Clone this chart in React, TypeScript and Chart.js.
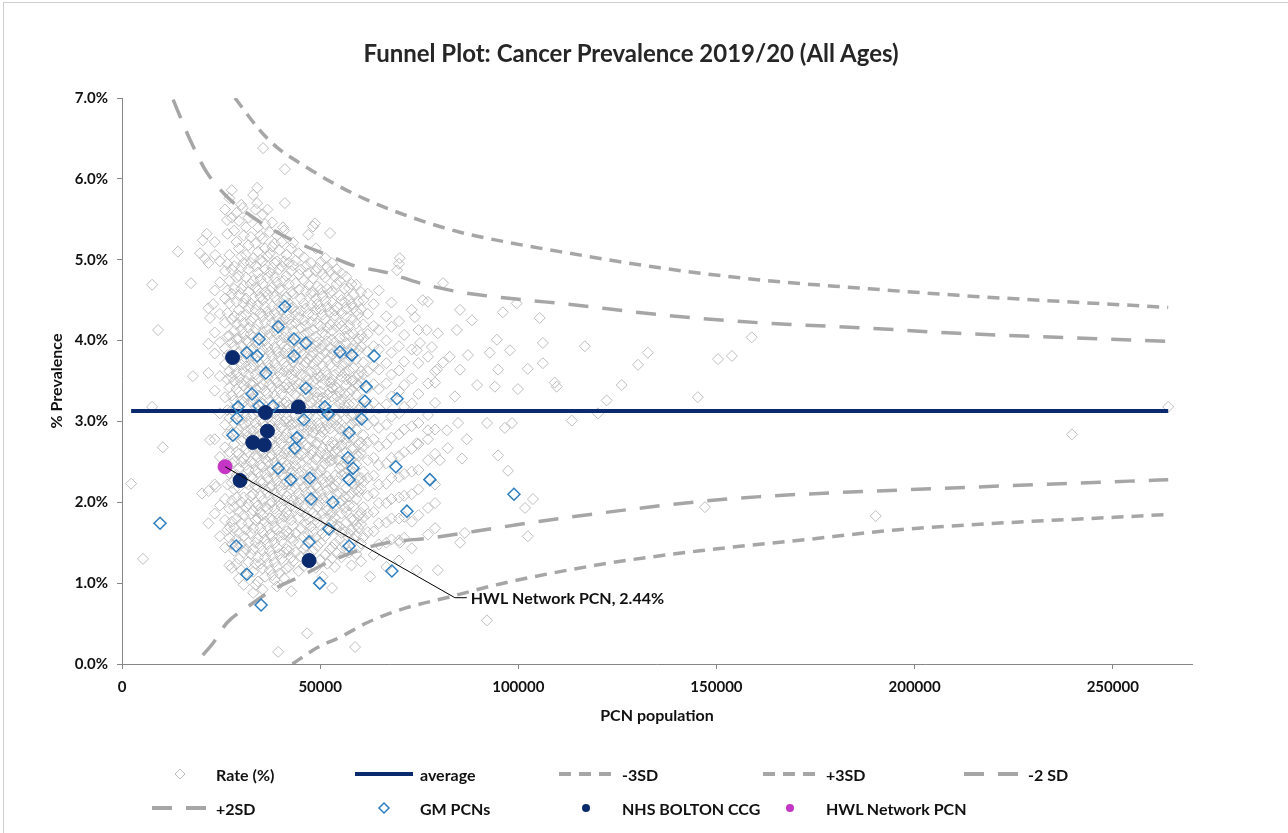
import React, { useEffect, useRef } from 'react';
import { Chart, registerables } from 'chart.js';

Chart.register(...registerables);

const chartTitle = 'Funnel Plot: Cancer Prevalence 2019/20 (All Ages)';
const xAxisTitle = 'PCN population';
const yAxisTitle = '% Prevalence';
const hwlLabel = 'HWL Network PCN, 2.44%';

const xTicks = [0, 50000, 100000, 150000, 200000, 250000];
const yTicks = [0, 1, 2, 3, 4, 5, 6, 7];

// All populations below are in thousands, rates in %.
const averageRate = 3.13;
const averageRange = [2.3, 264];

const plus3SD: [number, number][] = [
    [28.5, 7.0], [34.8, 6.6], [39.1, 6.39], [45.7, 6.17], [53.2, 5.95], [61.8, 5.74], [72.7, 5.53],
    [85.3, 5.34], [97.9, 5.21], [110.5, 5.1], [135.7, 4.9], [161, 4.75], [186, 4.65], [211, 4.56], [264, 4.41],
];
const plus2SD: [number, number][] = [
    [12.9, 6.98], [17.2, 6.48], [21.4, 6.08], [26.5, 5.78], [32.3, 5.55], [39.1, 5.34], [45.7, 5.18],
    [51.7, 5.06], [58.3, 4.93], [66.9, 4.84], [75.2, 4.71], [85.3, 4.6], [102.2, 4.5], [110.5, 4.46],
    [135.7, 4.32], [161, 4.22], [186, 4.16], [211, 4.09], [264, 3.99],
];
const minus2SD: [number, number][] = [
    [20.4, 0.11], [23.0, 0.26], [26.5, 0.51], [31.5, 0.7], [38.1, 0.92], [44.9, 1.08], [51.7, 1.25],
    [60.0, 1.41], [66.9, 1.5], [78, 1.56], [95.4, 1.69], [110.5, 1.8], [145.8, 2.01], [161, 2.07],
    [211, 2.18], [264, 2.28],
];
const minus3SD: [number, number][] = [
    [43.0, 0.0], [49.2, 0.2], [55.0, 0.33], [61.8, 0.51], [70.1, 0.67], [82.7, 0.83], [95.4, 0.99],
    [120.6, 1.23], [145.8, 1.4], [171, 1.53], [196, 1.66], [264, 1.85],
];

// Rate (%) markers in the dense part of the funnel: [population, rates at that population]
const rateColumns: [number, number[]][] = [
    [21.8, [4.96, 4.4, 3.96, 3.6, 2.14, 1.74]],
    [23.4, [5.22, 4.62, 4.1, 3.84, 3.38, 2.78, 2.22, 1.86]],
    [24.7, [4.98, 4.72, 4.33, 3.98, 3.56, 3.1, 2.56, 1.96, 1.58]],
    [26.0, [5.62, 4.86, 4.52, 4.22, 3.9, 3.71, 3.3, 2.96, 2.68, 2.04, 1.78, 1.44]],
    [26.6, [5.32, 4.95, 4.62, 4.34, 4.05, 3.82, 3.52, 3.14, 2.84, 2.48, 2.22, 1.66]],
    [27.1, [5.76, 5.06, 4.74, 4.46, 4.06, 3.62, 3.42, 3.04, 2.62, 2.36, 1.92, 1.56, 1.22]],
    [27.7, [5.52, 4.88, 4.58, 4.26, 3.98, 3.78, 3.55, 3.32, 3.14, 2.86, 2.48, 2.24, 2.02, 1.76, 1.48]],
    [28.3, [5.36, 4.92, 4.64, 4.3, 4.12, 3.93, 3.68, 3.5, 3.26, 2.98, 2.72, 2.5, 2.16, 1.94, 1.68, 1.4]],
    [28.9, [5.58, 5.22, 4.78, 4.48, 4.2, 4.02, 3.78, 3.6, 3.4, 3.16, 2.86, 2.62, 2.34, 2.06, 1.8, 1.54, 1.24]],
    [29.5, [5.48, 5.14, 4.8, 4.56, 4.38, 4.02, 3.86, 3.54, 3.36, 3.12, 2.9, 2.6, 2.42, 2.18, 1.88, 1.62, 1.3, 1.06]],
    [30.1, [5.68, 5.04, 4.9, 4.64, 4.3, 4.14, 3.94, 3.7, 3.48, 3.26, 3.02, 2.76, 2.5, 2.28, 2.0, 1.74, 1.48, 1.16]],
    [30.7, [5.3, 4.96, 4.68, 4.46, 4.22, 4.08, 3.76, 3.62, 3.44, 3.24, 2.96, 2.78, 2.54, 2.32, 2.06, 1.84, 1.58, 1.38, 0.98]],
    [31.3, [5.4, 5.06, 4.78, 4.52, 4.32, 4.0, 3.86, 3.68, 3.5, 3.3, 3.06, 2.88, 2.66, 2.46, 2.24, 1.94, 1.66, 1.42, 1.12]],
    [31.9, [5.52, 5.18, 4.88, 4.6, 4.4, 4.16, 3.98, 3.8, 3.58, 3.38, 3.16, 3.0, 2.82, 2.62, 2.4, 2.22, 1.98, 1.74, 1.5, 1.26]],
    [32.5, [5.28, 4.96, 4.7, 4.46, 4.24, 4.08, 3.88, 3.66, 3.46, 3.24, 3.06, 2.9, 2.72, 2.5, 2.32, 2.08, 1.86, 1.62, 1.36]],
    [33.1, [5.8, 5.02, 4.74, 4.52, 4.28, 4.04, 3.9, 3.7, 3.48, 3.28, 3.08, 2.88, 2.66, 2.48, 2.3, 2.1, 1.9, 1.68, 1.42, 1.14, 0.88]],
    [33.7, [5.62, 5.2, 4.92, 4.66, 4.38, 4.14, 3.98, 3.78, 3.58, 3.4, 3.18, 2.98, 2.8, 2.58, 2.4, 2.2, 2.0, 1.78, 1.5, 1.24, 0.98]],
    [34.3, [5.4, 5.1, 4.84, 4.62, 4.44, 4.2, 3.96, 3.74, 3.52, 3.32, 3.12, 2.92, 2.74, 2.56, 2.36, 2.18, 1.96, 1.8, 1.55, 1.32, 1.02]],
    [34.9, [5.3, 5.0, 4.76, 4.54, 4.34, 4.06, 3.84, 3.62, 3.42, 3.24, 3.02, 2.84, 2.64, 2.46, 2.26, 2.08, 1.88, 1.68, 1.46, 1.24]],
    [35.5, [5.56, 5.26, 4.98, 4.7, 4.5, 4.3, 4.1, 3.88, 3.66, 3.46, 3.22, 2.98, 2.8, 2.6, 2.44, 2.24, 2.02, 1.84, 1.62, 1.4, 1.18, 0.92]],
    [36.1, [5.44, 5.14, 4.88, 4.6, 4.42, 4.22, 4.0, 3.78, 3.58, 3.38, 3.14, 2.9, 2.72, 2.54, 2.36, 2.16, 1.94, 1.76, 1.54, 1.32, 1.08]],
    [36.7, [5.62, 5.04, 4.78, 4.56, 4.36, 4.14, 3.92, 3.72, 3.54, 3.34, 3.04, 2.86, 2.68, 2.5, 2.3, 2.12, 1.92, 1.7, 1.48, 1.24]],
    [37.3, [5.34, 5.08, 4.84, 4.62, 4.3, 4.08, 3.86, 3.66, 3.46, 3.26, 3.1, 2.94, 2.74, 2.56, 2.38, 2.18, 1.98, 1.8, 1.6, 1.4, 1.16]],
    [37.9, [5.46, 5.16, 4.9, 4.66, 4.42, 4.22, 4.0, 3.8, 3.62, 3.42, 3.2, 3.0, 2.78, 2.58, 2.4, 2.2, 2.0, 1.78, 1.58, 1.34, 1.1]],
    [38.5, [5.2, 4.96, 4.78, 4.54, 4.34, 4.12, 3.92, 3.72, 3.52, 3.32, 3.1, 2.9, 2.7, 2.5, 2.32, 2.12, 1.92, 1.7, 1.5, 1.26, 1.04]],
    [39.1, [5.3, 4.98, 4.72, 4.5, 4.28, 4.08, 3.86, 3.66, 3.48, 3.26, 3.02, 2.84, 2.64, 2.46, 2.26, 2.06, 1.86, 1.66, 1.44, 1.2, 0.96]],
    [39.7, [5.12, 4.88, 4.64, 4.42, 4.22, 4.0, 3.8, 3.6, 3.4, 3.18, 2.98, 2.78, 2.58, 2.38, 2.2, 2.0, 1.8, 1.58, 1.36, 1.12]],
    [40.3, [5.22, 4.92, 4.62, 4.38, 4.18, 3.96, 3.76, 3.54, 3.34, 3.14, 2.92, 2.72, 2.52, 2.34, 2.14, 1.94, 1.74, 1.52, 1.3]],
    [40.9, [5.36, 4.98, 4.74, 4.5, 4.26, 4.04, 3.84, 3.62, 3.42, 3.22, 3.0, 2.8, 2.6, 2.42, 2.22, 2.02, 1.82, 1.6, 1.38, 1.06]],
    [41.5, [5.06, 4.8, 4.54, 4.32, 4.1, 3.9, 3.68, 3.46, 3.24, 3.04, 2.86, 2.66, 2.46, 2.26, 2.08, 1.88, 1.64, 1.42, 1.18]],
    [42.1, [4.96, 4.7, 4.46, 4.26, 4.04, 3.84, 3.64, 3.42, 3.2, 3.0, 2.8, 2.62, 2.42, 2.22, 2.02, 1.84, 1.62, 1.4, 1.2]],
    [42.7, [5.14, 4.86, 4.6, 4.4, 4.2, 3.98, 3.78, 3.58, 3.38, 3.16, 2.96, 2.76, 2.56, 2.36, 2.16, 1.96, 1.78, 1.56, 1.32, 0.9]],
    [43.2, [5.21, 4.93, 4.58, 4.41, 4.12, 3.97, 3.74, 3.52, 3.44, 3.19, 2.97, 2.88, 2.61, 2.38, 2.29, 2.02, 1.71, 1.52, 1.27]],
    [43.8, [4.99, 4.71, 4.36, 4.22, 3.88, 3.79, 3.61, 3.33, 3.08, 2.99, 2.74, 2.52, 2.45, 2.17, 1.93, 1.62, 1.38]],
    [44.6, [5.08, 4.82, 4.63, 4.29, 4.04, 3.91, 3.66, 3.47, 3.23, 3.12, 2.83, 2.69, 2.36, 2.11, 1.99, 1.81, 1.49, 1.15]],
    [45.1, [4.88, 4.52, 4.37, 4.16, 3.86, 3.58, 3.39, 3.27, 3.01, 2.78, 2.58, 2.49, 2.27, 2.04, 1.89, 1.68, 1.33]],
    [45.9, [5.03, 4.74, 4.46, 4.25, 4.07, 3.82, 3.69, 3.45, 3.18, 2.93, 2.85, 2.61, 2.35, 2.19, 1.96, 1.57, 1.42, 1.21]],
    [46.4, [4.92, 4.61, 4.4, 4.19, 3.95, 3.73, 3.56, 3.35, 3.11, 2.96, 2.71, 2.55, 2.29, 2.12, 1.84, 1.73, 1.46]],
    [47.0, [5.31, 4.83, 4.69, 4.33, 4.1, 3.99, 3.77, 3.51, 3.31, 3.07, 2.89, 2.68, 2.42, 2.24, 2.06, 1.79, 1.6, 1.36]],
    [47.7, [4.96, 4.58, 4.44, 4.23, 3.92, 3.81, 3.61, 3.4, 3.23, 2.94, 2.77, 2.59, 2.37, 2.15, 1.98, 1.7, 1.52, 1.26]],
    [48.2, [5.41, 4.77, 4.6, 4.31, 4.13, 3.86, 3.71, 3.49, 3.28, 3.14, 2.86, 2.64, 2.45, 2.3, 2.03, 1.87, 1.63, 1.4]],
    [48.9, [5.14, 4.86, 4.52, 4.38, 4.05, 3.93, 3.64, 3.53, 3.36, 3.05, 2.91, 2.72, 2.53, 2.21, 2.09, 1.83, 1.56, 1.19]],
    [49.3, [4.9, 4.67, 4.45, 4.21, 3.98, 3.75, 3.59, 3.3, 3.17, 2.98, 2.74, 2.56, 2.34, 2.18, 1.94, 1.75, 1.46]],
    [50.1, [4.97, 4.63, 4.39, 4.18, 3.9, 3.8, 3.55, 3.37, 3.2, 2.92, 2.81, 2.62, 2.39, 2.13, 1.99, 1.71, 1.5, 1.29]],
    [50.6, [4.82, 4.55, 4.32, 4.1, 3.94, 3.69, 3.46, 3.29, 3.1, 2.87, 2.67, 2.44, 2.29, 2.05, 1.86, 1.62, 1.08]],
    [51.3, [5.02, 4.78, 4.49, 4.26, 4.07, 3.85, 3.62, 3.51, 3.25, 3.02, 2.9, 2.6, 2.48, 2.25, 2.01, 1.8, 1.58, 1.35]],
    [51.8, [4.91, 4.64, 4.42, 4.16, 3.99, 3.76, 3.57, 3.33, 3.14, 2.96, 2.76, 2.55, 2.32, 2.15, 1.9, 1.68, 1.24]],
    [52.5, [4.85, 4.59, 4.35, 4.2, 3.91, 3.7, 3.48, 3.36, 3.09, 2.91, 2.69, 2.51, 2.27, 2.08, 1.84, 1.65, 1.42]],
    [53.0, [4.96, 4.61, 4.47, 4.12, 4.01, 3.83, 3.52, 3.42, 3.31, 2.99, 2.74, 2.58, 2.52, 2.19, 1.88, 1.76, 1.44, 1.31]],
    [53.7, [4.79, 4.37, 4.31, 3.98, 3.87, 3.58, 3.44, 3.17, 3.05, 2.71, 2.63, 2.33, 2.21, 1.95, 1.81, 1.49, 1.2]],
    [54.2, [4.88, 4.7, 4.42, 4.17, 3.79, 3.74, 3.41, 3.31, 3.02, 2.94, 2.66, 2.53, 2.26, 2.1, 1.72, 1.67, 1.37]],
    [54.9, [4.74, 4.56, 4.21, 4.03, 3.93, 3.62, 3.36, 3.22, 2.91, 2.81, 2.52, 2.42, 2.11, 1.99, 1.7, 1.54]],
    [55.4, [4.83, 4.5, 4.34, 4.18, 3.82, 3.69, 3.55, 3.27, 3.12, 2.89, 2.71, 2.45, 2.34, 2.02, 1.86, 1.62, 1.32]],
    [56.2, [4.64, 4.47, 4.14, 4.05, 3.73, 3.6, 3.34, 3.2, 2.92, 2.78, 2.49, 2.36, 2.07, 1.93, 1.64, 1.48]],
    [56.6, [4.79, 4.39, 4.3, 3.96, 3.86, 3.52, 3.45, 3.13, 3.04, 2.73, 2.62, 2.31, 2.18, 1.88, 1.75, 1.43]],
    [57.3, [4.65, 4.51, 4.19, 4.07, 3.76, 3.63, 3.35, 3.21, 2.93, 2.8, 2.5, 2.39, 2.07, 1.96, 1.61, 1.38]],
    [57.9, [4.7, 4.45, 4.26, 3.9, 3.82, 3.5, 3.39, 3.07, 2.97, 2.66, 2.53, 2.24, 2.11, 1.8, 1.66, 1.22]],
    [58.4, [4.57, 4.4, 4.08, 3.94, 3.66, 3.51, 3.22, 3.09, 2.8, 2.66, 2.37, 2.23, 1.95, 1.78, 1.55]],
    [59.1, [4.69, 4.36, 4.21, 3.91, 3.77, 3.46, 3.33, 3.01, 2.9, 2.59, 2.47, 2.16, 2.04, 1.72, 1.59, 1.36]],
    [59.7, [4.48, 4.33, 4.02, 3.88, 3.57, 3.45, 3.14, 3.01, 2.71, 2.57, 2.27, 2.13, 1.83, 1.68, 1.44]],
    [60.3, [4.6, 4.39, 4.07, 3.93, 3.62, 3.49, 3.18, 3.05, 2.74, 2.61, 2.3, 2.17, 1.87, 1.73, 1.49, 1.27]],
    [60.9, [4.5, 4.2, 4.03, 3.73, 3.58, 3.27, 3.13, 2.83, 2.69, 2.38, 2.25, 1.94, 1.81, 1.57]],
    [62.0, [4.58, 4.33, 4.08, 3.86, 3.62, 3.41, 3.18, 2.96, 2.74, 2.52, 2.3, 2.08, 1.86, 1.63]],
    [63.5, [4.45, 4.18, 3.93, 3.69, 3.46, 3.23, 3.01, 2.78, 2.55, 2.33, 2.11, 1.88, 1.64, 1.35]],
    [64.8, [4.62, 4.13, 3.89, 3.64, 3.4, 3.16, 2.92, 2.69, 2.46, 2.22, 1.99, 1.74, 1.48]],
    [66.7, [4.3, 4.0, 3.72, 3.47, 3.21, 2.96, 2.72, 2.48, 2.23, 1.99, 1.75, 1.5, 1.2]],
    [68.0, [4.47, 4.17, 3.85, 3.58, 3.31, 3.06, 2.8, 2.55, 2.3, 2.04, 1.8, 1.54]],
    [69.9, [4.95, 4.24, 3.93, 3.63, 3.37, 3.1, 2.84, 2.57, 2.31, 2.06, 1.8, 1.53, 1.28]],
    [71.2, [4.07, 3.74, 3.45, 3.18, 2.9, 2.62, 2.35, 2.08, 1.82, 1.56]],
    [73.1, [4.38, 3.89, 3.53, 3.22, 2.94, 2.66, 2.38, 2.1, 1.76, 1.43]],
    [74.8, [4.13, 3.72, 3.34, 2.98, 2.72, 2.4, 2.16, 1.84]],
    [77.2, [4.48, 3.8, 3.47, 3.08, 2.78, 2.52, 1.93, 1.6]],
    [79.0, [3.62, 3.23, 2.9, 2.6, 2.22, 1.68]],
];

// Rate (%) markers outside the dense part
const rateScattered: [number, number][] = [
    [2.3, 2.23], [5.3, 1.3], [7.6, 4.69], [9.1, 4.13], [7.6, 3.18], [10.3, 2.68], [14.1, 5.1], [17.4, 4.71],
    [17.9, 3.56], [20.9, 5.02], [20.4, 5.24], [23.0, 4.45], [22.2, 4.28], [19.7, 5.08], [23.5, 5.06],
    [21.4, 5.32], [26.5, 5.49], [30.5, 5.64], [34.1, 5.7], [41.1, 5.7], [27.7, 5.86], [34.1, 5.89],
    [41.1, 6.12], [35.6, 6.38], [40.6, 5.4], [48.7, 5.45], [52.5, 5.33],
    [20.2, 2.11], [23.7, 2.19], [22.2, 2.77], [27.2, 1.69], [27.7, 1.19], [46.7, 0.38], [39.4, 0.15],
    [58.8, 0.21], [53.0, 0.94], [62.6, 1.08],
    [70.1, 5.02], [69.4, 4.87], [81.0, 4.71], [75.9, 4.5], [73.9, 4.29], [76.9, 4.13], [75.2, 3.97],
    [74.4, 3.88], [79.5, 3.64], [85.3, 4.38], [84.5, 4.13], [79.7, 4.09], [88.3, 4.25], [78.2, 3.92],
    [82.7, 3.8], [87.3, 3.82], [85.3, 3.64], [81.0, 3.73], [79.0, 3.48], [84.0, 3.31], [89.6, 3.45],
    [96.1, 4.35], [99.6, 4.46], [105.4, 4.28], [94.6, 4.01], [106.2, 3.97], [92.8, 3.85], [97.9, 3.88],
    [94.9, 3.64], [102.4, 3.65], [106.2, 3.72], [94.1, 3.43], [99.9, 3.4], [109.2, 3.48], [109.7, 3.43],
    [116.8, 3.93], [113.5, 3.01], [120.1, 3.1], [122.3, 3.26], [126.1, 3.45], [130.2, 3.7], [132.7, 3.85],
    [77.2, 2.89], [82.0, 2.89], [84.8, 2.98], [92.1, 2.98], [96.6, 2.92], [98.4, 2.98], [87.0, 2.78],
    [74.4, 2.73], [82.2, 2.67], [80.2, 2.52], [85.8, 2.54], [94.9, 2.58], [97.4, 2.39], [79.0, 1.99],
    [101.7, 1.93], [103.7, 2.04], [70.1, 1.5], [85.3, 1.5], [86.5, 1.62], [102.4, 1.58], [74.4, 1.16],
    [79.7, 1.16], [92.1, 0.54],
    [145.3, 3.3], [150.4, 3.77], [153.9, 3.81], [158.9, 4.04], [147.1, 1.94], [190.2, 1.83], [239.7, 2.84],
    [264.0, 3.18],
];

const gmPcns: [number, number][] = [
    [41.1, 4.42], [39.4, 4.17], [34.6, 4.02], [43.4, 4.02], [46.4, 3.97], [31.5, 3.85], [34.1, 3.81],
    [43.4, 3.81], [55.0, 3.86], [58.0, 3.82], [63.6, 3.81], [36.3, 3.6], [61.6, 3.43], [46.4, 3.41],
    [32.8, 3.34], [61.3, 3.25], [29.3, 3.18], [34.6, 3.19], [38.1, 3.19], [51.2, 3.18], [52.0, 3.09],
    [29.0, 3.04], [45.9, 3.02], [60.5, 3.03], [69.4, 3.28], [57.3, 2.86], [28.0, 2.83], [44.1, 2.8],
    [43.6, 2.67], [57.0, 2.55], [58.3, 2.42], [69.1, 2.44], [39.4, 2.42], [42.6, 2.28], [47.4, 2.3],
    [57.3, 2.28], [77.7, 2.28], [47.7, 2.04], [53.2, 2.0], [71.9, 1.89], [98.9, 2.1], [9.6, 1.74],
    [52.2, 1.67], [28.8, 1.46], [47.2, 1.51], [57.3, 1.46], [31.5, 1.11], [49.9, 1.0], [68.1, 1.15],
    [35.1, 0.73],
];

const boltonCcg: [number, number][] = [
    [27.9, 3.79], [36.2, 3.11], [44.5, 3.18], [36.7, 2.88], [33.0, 2.74], [35.9, 2.71], [29.8, 2.27],
    [47.2, 1.28],
];

const hwlNetwork: [number, number][] = [[26.0, 2.44]];
// leader line from the HWL marker to its label
const hwlLeader: [number, number][] = [[26.0, 2.44], [84.0, 0.82], [87.0, 0.82]];
const hwlLabelAt: [number, number] = [88.0, 0.8];

const toPoints = (rows: [number, number][]) => rows.map(([k, y]) => ({ x: k * 1000, y }));

const ratePoints = [
    ...rateColumns.flatMap(([k, ys]) => ys.map((y) => ({ x: k * 1000, y }))),
    ...toPoints(rateScattered),
];

const GREY_DASH = '#a6a6a6';
const NAVY = '#0b2a6e';
const FONT = 'Lato, "Open Sans", sans-serif';
const TEXT = '#111';

const legendItems = [
    { label: 'Rate (%)', kind: 'diamond', color: '#bfbfbf', col: 0, row: 0 },
    { label: 'average', kind: 'line', color: NAVY, col: 1, row: 0 },
    { label: '-3SD', kind: 'short', color: GREY_DASH, col: 2, row: 0 },
    { label: '+3SD', kind: 'short', color: GREY_DASH, col: 3, row: 0 },
    { label: '-2 SD', kind: 'long', color: GREY_DASH, col: 4, row: 0 },
    { label: '+2SD', kind: 'long', color: GREY_DASH, col: 0, row: 1 },
    { label: 'GM PCNs', kind: 'diamond', color: '#2e7ebf', col: 1, row: 1 },
    { label: 'NHS BOLTON CCG', kind: 'dot', color: NAVY, col: 2, row: 1 },
    { label: 'HWL Network PCN', kind: 'dot', color: '#c535c5', col: 3, row: 1 },
];
const legendCols = [180, 384, 586, 790, 992];
const legendRows = [774, 808];

const hwlLabelPlugin = {
    id: 'hwlLabel',
    afterDatasetsDraw(chart: any) {
        const { ctx, scales } = chart;
        ctx.save();
        ctx.font = `bold 16px ${FONT}`;
        ctx.fillStyle = TEXT;
        ctx.textBaseline = 'middle';
        ctx.fillText(hwlLabel, scales.x.getPixelForValue(hwlLabelAt[0] * 1000), scales.y.getPixelForValue(hwlLabelAt[1]));
        ctx.restore();
    },
};

function Swatch({ kind, color }: { kind: string; color: string }) {
    return (
        <svg width={60} height={16} style={{ display: 'block' }}>
            {kind === 'diamond' && <polygon points="30,3 35,8 30,13 25,8" fill="none" stroke={color} strokeWidth={color === '#bfbfbf' ? 1 : 1.5} />}
            {kind === 'dot' && <circle cx={30} cy={8} r={4} fill={color} />}
            {kind === 'line' && <line x1={1} y1={8} x2={59} y2={8} stroke={color} strokeWidth={4} />}
            {kind === 'short' && <line x1={3} y1={8} x2={58} y2={8} stroke={color} strokeWidth={4} strokeDasharray="12 8" />}
            {kind === 'long' && <line x1={2} y1={8} x2={60} y2={8} stroke={color} strokeWidth={4} strokeDasharray="20 14" />}
        </svg>
    );
}

export default function App() {
    const canvasRef = useRef<HTMLCanvasElement>(null);

    useEffect(() => {
        if (!canvasRef.current) return;

        const sdLine = (label: string, rows: [number, number][], dash: number[]) => ({
            type: 'line' as const,
            label,
            data: toPoints(rows),
            borderColor: GREY_DASH,
            borderWidth: 3.5,
            borderDash: dash,
            pointRadius: 0,
            showLine: true,
            fill: false,
            cubicInterpolationMode: 'monotone' as const,
            order: 3,
        });

        const tickFont = { family: FONT, size: 15, weight: 'bold' as const };
        const titleFont = { family: FONT, size: 16, weight: 'bold' as const };

        const chart = new Chart(canvasRef.current, {
            type: 'scatter',
            data: {
                datasets: [
                    {
                        type: 'line',
                        label: 'leader',
                        data: toPoints(hwlLeader),
                        borderColor: '#000',
                        borderWidth: 1,
                        pointRadius: 0,
                        showLine: true,
                        order: -1,
                    },
                    {
                        label: 'HWL Network PCN',
                        data: toPoints(hwlNetwork),
                        pointStyle: 'circle',
                        pointRadius: 7,
                        backgroundColor: '#c535c5',
                        borderColor: '#c535c5',
                        order: 0,
                    },
                    {
                        label: 'NHS BOLTON CCG',
                        data: toPoints(boltonCcg),
                        pointStyle: 'circle',
                        pointRadius: 7,
                        backgroundColor: NAVY,
                        borderColor: NAVY,
                        order: 1,
                    },
                    {
                        label: 'GM PCNs',
                        data: toPoints(gmPcns),
                        pointStyle: 'rectRot',
                        pointRadius: 6,
                        borderWidth: 1.5,
                        borderColor: '#2e7ebf',
                        backgroundColor: 'rgba(0,0,0,0)',
                        order: 2,
                    },
                    sdLine('-3SD', minus3SD, [12, 8]),
                    sdLine('+3SD', plus3SD, [12, 8]),
                    sdLine('-2 SD', minus2SD, [20, 14]),
                    sdLine('+2SD', plus2SD, [20, 14]),
                    {
                        type: 'line',
                        label: 'average',
                        data: [
                            { x: averageRange[0] * 1000, y: averageRate },
                            { x: averageRange[1] * 1000, y: averageRate },
                        ],
                        borderColor: NAVY,
                        borderWidth: 4,
                        pointRadius: 0,
                        showLine: true,
                        order: 7,
                    },
                    {
                        label: 'Rate (%)',
                        data: ratePoints,
                        pointStyle: 'rectRot',
                        pointRadius: 5.5,
                        borderWidth: 1,
                        borderColor: '#bdbdbd',
                        backgroundColor: 'rgba(0,0,0,0)',
                        order: 8,
                    },
                ] as any,
            },
            options: {
                responsive: true,
                maintainAspectRatio: false,
                animation: false,
                layout: { padding: { left: 0, right: 96, top: 98, bottom: 93 } },
                plugins: {
                    legend: { display: false },
                    tooltip: { enabled: false },
                    title: { display: false },
                },
                scales: {
                    x: {
                        type: 'linear',
                        min: 0,
                        max: 270000,
                        afterFit: (scale: any) => { scale.height = 76; },
                        afterBuildTicks: (scale: any) => { scale.ticks = xTicks.map((value) => ({ value })); },
                        ticks: {
                            padding: 9,
                            color: TEXT,
                            font: tickFont,
                            callback: (v: any) => String(v),
                        },
                        grid: { drawOnChartArea: false, tickLength: 5, color: '#868686' },
                        border: { color: '#868686', width: 1 },
                        title: {
                            display: true,
                            text: xAxisTitle,
                            color: TEXT,
                            font: titleFont,
                            padding: { top: 0, bottom: 15 },
                        },
                    },
                    y: {
                        type: 'linear',
                        min: 0,
                        max: 7,
                        afterFit: (scale: any) => { scale.width = 122; },
                        afterBuildTicks: (scale: any) => { scale.ticks = yTicks.map((value) => ({ value })); },
                        ticks: {
                            padding: 9,
                            color: TEXT,
                            font: tickFont,
                            callback: (v: any) => `${Number(v).toFixed(1)}%`,
                        },
                        grid: { drawOnChartArea: false, tickLength: 5, color: '#868686' },
                        border: { color: '#868686', width: 1 },
                        title: {
                            display: true,
                            text: yAxisTitle,
                            color: TEXT,
                            font: titleFont,
                            padding: { top: 47, bottom: 0 },
                        },
                    },
                },
            },
            plugins: [hwlLabelPlugin],
        });

        return () => chart.destroy();
    }, []);

    return (
        <div style={{ position: 'fixed', left: 0, top: 0, width: 1288, height: 833, background: '#fff', fontFamily: FONT, overflow: 'hidden' }}>
            <div style={{ position: 'absolute', left: 3, top: 2, right: -2, bottom: -2, borderLeft: '1px solid #cfcfcf', borderTop: '1px solid #cfcfcf' }} />
            <div style={{ position: 'absolute', inset: 0 }}>
                <canvas ref={canvasRef} />
            </div>
            <div style={{ position: 'absolute', left: 0, width: 1262, top: 38, lineHeight: '29px', textAlign: 'center', fontSize: 24, fontWeight: 700, color: '#262626' }}>
                {chartTitle}
            </div>
            {legendItems.map((item) => (
                <div
                    key={item.label}
                    style={{ position: 'absolute', left: legendCols[item.col] - 30, top: legendRows[item.row] - 10, height: 20, display: 'flex', alignItems: 'center', whiteSpace: 'nowrap' }}
                >
                    <Swatch kind={item.kind} color={item.color} />
                    <span style={{ marginLeft: 6, fontSize: 16, fontWeight: 700, color: TEXT }}>{item.label}</span>
                </div>
            ))}
        </div>
    );
}
